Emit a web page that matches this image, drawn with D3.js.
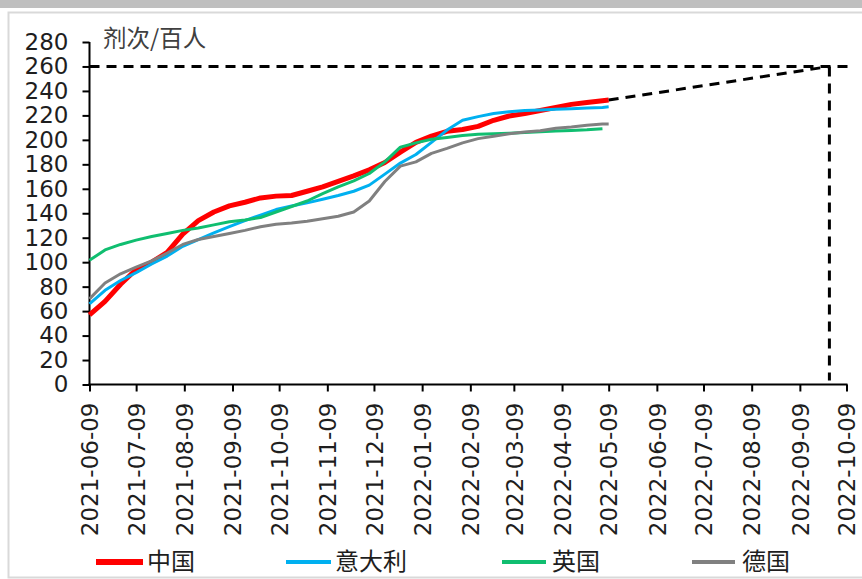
<!DOCTYPE html>
<html><head><meta charset="utf-8">
<script src="https://cdn.jsdelivr.net/npm/d3@7/dist/d3.min.js"></script>
<style>
html,body{margin:0;padding:0;background:#fff;}
svg{display:block;}
</style>
</head><body>
<svg id="chart" width="862" height="579"></svg>
<script>
const dates = ["2021-06-09","2021-06-19","2021-06-29","2021-07-09","2021-07-19","2021-07-29","2021-08-08","2021-08-18","2021-08-28","2021-09-07","2021-09-17","2021-09-27","2021-10-07","2021-10-17","2021-10-27","2021-11-06","2021-11-16","2021-11-26","2021-12-06","2021-12-16","2021-12-26","2022-01-05","2022-01-15","2022-01-25","2022-02-04","2022-02-14","2022-02-24","2022-03-06","2022-03-16","2022-03-26","2022-04-05","2022-04-15","2022-04-25","2022-05-05","2022-05-09"];
const china   = [57,68,82,94,100,108,123,134,141,146,149,152.5,154,154.5,158,161.5,166,170.5,175.5,181.5,190,198,203,207,208.5,211,216,219.5,221.5,224,226.5,229,230.5,232,232.5];
const italy   = [66,77,85,91.5,98.5,105,113,118.5,124,129,134,138.5,143,146,148.5,151.5,154.5,158,163,172,181,188,198,208,216,219,221.5,223,224,224.5,225,225.5,226,226.5,227];
const uk      = [101.5,110,114.5,118,121,123.5,126,128,130.5,133,134.5,136.5,141,145.5,150,156,161.5,166.5,172.5,182,194,197.5,200.5,202,203.5,204.5,205,205.5,206,206.7,207.2,207.7,208.2,209,null];
const germany = [70,83,90.5,96,101,107.5,114.5,118.5,121,123.5,126,129,131,132,133.5,135.5,137.5,141,150,166,178.5,182,189,193,197.5,201,203,205,206.5,207.5,209.5,210.5,212,213,213];
const seriesNames = ["中国","意大利","英国","德国"];
const seriesColors = ["#FF0000","#00B0F0","#10BE70","#808080"];
const seriesWidths = [5,3,3,3];
const xTickLabels = ["2021-06-09","2021-07-09","2021-08-09","2021-09-09","2021-10-09","2021-11-09","2021-12-09","2022-01-09","2022-02-09","2022-03-09","2022-04-09","2022-05-09","2022-06-09","2022-07-09","2022-08-09","2022-09-09","2022-10-09"];
const yTicks = [0,20,40,60,80,100,120,140,160,180,200,220,240,260,280];
const targetValue = 260;
const targetDate = "2022-09-28";
const targetLineEnd = "2022-10-11";
const yTitle = "剂次/百人";

const parse = d3.utcParse("%Y-%m-%d");
const svg = d3.select("#chart");

// background decorations
svg.append("rect").attr("x",0).attr("y",0).attr("width",862).attr("height",8).attr("fill","#BFBFBF");
svg.append("rect").attr("x",8.5).attr("y",12.5).attr("width",900).attr("height",565)
  .attr("fill","none").attr("stroke","#D9D9D9").attr("stroke-width",2);

const x = d3.scaleUtc().domain([parse(xTickLabels[0]), parse(xTickLabels[xTickLabels.length-1])]).range([89.5, 846.5]);
const y = d3.scaleLinear().domain([0,280]).range([384.5, 42]);

const font = "'DejaVu Sans', sans-serif";
const cjk = "'Noto Sans CJK SC', sans-serif";

// Y axis
const yAxis = svg.append("g").attr("transform","translate(89.5,0)")
  .call(d3.axisLeft(y).tickValues(yTicks).tickSize(7).tickPadding(14).tickFormat(d3.format("d")));
yAxis.select(".domain").attr("stroke","#000").attr("stroke-width",2).attr("d",`M0,${y(280)}V${y(0)}`);
yAxis.selectAll(".tick line").attr("stroke","#000").attr("stroke-width",2);
yAxis.selectAll(".tick text").attr("font-family",font).attr("font-size",23).attr("fill","#1e1e1e");

// X axis
const xAxis = svg.append("g").attr("transform",`translate(0,${y(0)})`)
  .call(d3.axisBottom(x).tickValues(xTickLabels.map(parse)).tickSize(7).tickFormat(d3.utcFormat("%Y-%m-%d")));
xAxis.select(".domain").attr("stroke","#000").attr("stroke-width",2).attr("d",`M${x.range()[0]-1},0H${x.range()[1]+1}`);
xAxis.selectAll(".tick line").attr("stroke","#000").attr("stroke-width",2);
xAxis.selectAll(".tick text")
  .attr("font-family",font).attr("font-size",23).attr("fill","#1e1e1e")
  .attr("text-anchor","end").attr("transform","rotate(-90)")
  .attr("x",-18).attr("y",0).attr("dy","0.36em");

// Y title
svg.append("text").attr("x",103).attr("y",39).attr("dy","0.35em")
  .attr("font-family",cjk).attr("font-size",23.5).attr("fill","#404040").text(yTitle);

// Series
const allSeries = [china, italy, uk, germany];
const line = d3.line().defined(d => d[1] != null).x(d => x(parse(d[0]))).y(d => y(d[1]));
allSeries.forEach((vals, i) => {
  const pts = dates.map((d, j) => [d, vals[j]]);
  svg.append("path").attr("d", line(pts)).attr("fill","none")
    .attr("stroke", seriesColors[i]).attr("stroke-width", seriesWidths[i])
    .attr("stroke-linejoin","round").attr("stroke-linecap","butt");
});

// Target dashed lines
const dashStyle = s => s.attr("fill","none").attr("stroke","#000").attr("stroke-width",3).attr("stroke-dasharray","10,7");
const lastDate = dates[dates.length-1], lastChina = china[china.length-1];
svg.append("path").call(dashStyle)
  .attr("d", `M${x(parse(dates[0]))},${y(targetValue)}H${x(parse(targetLineEnd))}`);
svg.append("path").call(dashStyle)
  .attr("d", `M${x(parse(lastDate))},${y(lastChina)}L${x(parse(targetDate))},${y(targetValue)}`);
svg.append("path").call(dashStyle)
  .attr("d", `M${x(parse(targetDate))},${y(targetValue)}V${y(0)-4}`);

// Legend
const legendPos = [[96,143,147],[286,331,335],[502,546,552],[692,735,742]];
seriesNames.forEach((name, i) => {
  const p = legendPos[i];
  svg.append("line").attr("x1",p[0]).attr("x2",p[1]).attr("y1",562).attr("y2",562)
    .attr("stroke",seriesColors[i]).attr("stroke-width",seriesWidths[i]+1);
  svg.append("text").attr("x",p[2]).attr("y",562).attr("dy","0.35em")
    .attr("font-family",cjk).attr("font-size",24).attr("fill","#1e1e1e").text(name);
});
</script>
</body></html>
